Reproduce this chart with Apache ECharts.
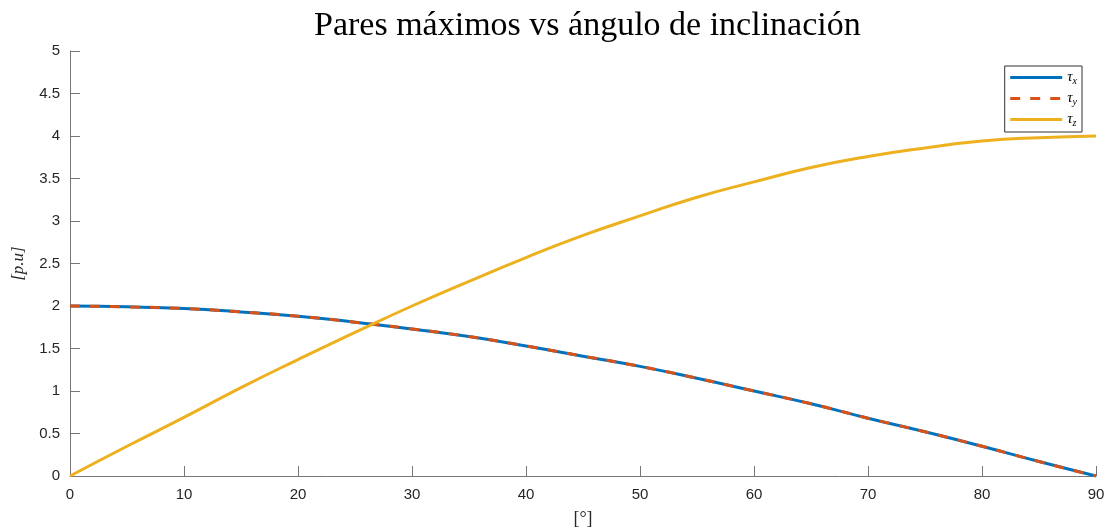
<!DOCTYPE html>
<html>
<head>
<meta charset="utf-8">
<script src="https://cdn.jsdelivr.net/npm/echarts@6/dist/echarts.min.js"></script>
<style>
  html, body { margin: 0; padding: 0; background: #fff; }
  #chart { width: 1108px; height: 531px; }
</style>
</head>
<body>
<div id="chart"></div>
<script>
var angles = [0, 5, 10, 15, 20, 25, 30, 35, 40, 45, 50, 55, 60, 65, 70, 75, 80, 85, 90];
var tauX = [2.00, 1.99, 1.97, 1.93, 1.88, 1.81, 1.73, 1.64, 1.53, 1.41, 1.29, 1.15, 1.00, 0.85, 0.68, 0.52, 0.35, 0.17, 0.00];
var tauY = [2.00, 1.99, 1.97, 1.93, 1.88, 1.81, 1.73, 1.64, 1.53, 1.41, 1.29, 1.15, 1.00, 0.85, 0.68, 0.52, 0.35, 0.17, 0.00];
var tauZ = [0.00, 0.35, 0.69, 1.04, 1.37, 1.69, 2.00, 2.29, 2.57, 2.83, 3.06, 3.28, 3.46, 3.63, 3.76, 3.86, 3.94, 3.98, 4.00];

function pairs(ys) {
  return angles.map(function (a, i) { return [a, ys[i]]; });
}

var chartDom = document.getElementById('chart');
var myChart = echarts.init(chartDom);
var option;

var axisColor = '#777';
var labelColor = '#262626';

option = {
  animation: false,
  title: {
    text: 'Pares máximos vs ángulo de inclinación',
    left: 309,
    top: 4,
    textStyle: {
      fontFamily: 'Liberation Serif',
      fontWeight: 'normal',
      fontSize: 34,
      color: '#000'
    }
  },
  grid: { left: 70, right: 12, top: 51, bottom: 55, outerBoundsMode: 'none', containLabel: false },
  legend: {
    orient: 'vertical',
    right: 26,
    top: 66,
    itemWidth: 52,
    itemHeight: 10,
    itemGap: 5,
    padding: [4, 5, 4, 4],
    borderColor: '#333',
    borderWidth: 1,
    borderRadius: 0,
    backgroundColor: '#fff',
    itemStyle: { opacity: 0 },
    lineStyle: { width: 3 },
    formatter: function (name) {
      return '{t|τ}{s|' + name.slice(1) + '}';
    },
    textStyle: {
      rich: {
        t: { fontFamily: 'Liberation Serif', fontStyle: 'italic', fontSize: 15, color: '#000' },
        s: { fontFamily: 'Liberation Serif', fontStyle: 'italic', fontSize: 10, color: '#000', verticalAlign: 'bottom', padding: [7, 0, 0, 0] }
      }
    },
    data: ['τx', 'τy', 'τz']
  },
  xAxis: {
    type: 'value',
    min: 0,
    max: 90,
    interval: 10,
    name: '[°]',
    nameLocation: 'middle',
    nameGap: 34,
    nameTextStyle: { fontFamily: 'Liberation Serif', fontSize: 18, color: labelColor },
    axisLine: { lineStyle: { color: axisColor, width: 1 } },
    axisTick: { inside: true, length: 10, lineStyle: { color: axisColor } },
    axisLabel: { fontFamily: 'Liberation Sans', fontSize: 15, color: labelColor, margin: 11 },
    splitLine: { show: false }
  },
  yAxis: {
    type: 'value',
    min: 0,
    max: 5,
    interval: 0.5,
    name: '[p.u]',
    nameLocation: 'middle',
    nameGap: 43,
    nameTextStyle: { fontFamily: 'Liberation Serif', fontStyle: 'italic', fontSize: 17, color: labelColor },
    axisLine: { show: true, lineStyle: { color: axisColor, width: 1 } },
    axisTick: { show: true, inside: true, length: 10, lineStyle: { color: axisColor } },
    axisLabel: { fontFamily: 'Liberation Sans', fontSize: 15, color: labelColor, margin: 10 },
    splitLine: { show: false }
  },
  series: [
    {
      name: 'τx',
      type: 'line',
      data: pairs(tauX),
      smooth: true,
      showSymbol: false,
      symbol: 'none',
      lineStyle: { color: '#0072BD', width: 3 },
      itemStyle: { color: '#0072BD' }
    },
    {
      name: 'τy',
      type: 'line',
      data: pairs(tauY),
      smooth: true,
      showSymbol: false,
      symbol: 'none',
      lineStyle: { color: '#D95319', width: 3, type: [10, 10] },
      itemStyle: { color: '#D95319' }
    },
    {
      name: 'τz',
      type: 'line',
      data: pairs(tauZ),
      smooth: true,
      showSymbol: false,
      symbol: 'none',
      lineStyle: { color: '#EDB120', width: 3 },
      itemStyle: { color: '#EDB120' }
    }
  ]
};

option && myChart.setOption(option);
</script>
</body>
</html>
